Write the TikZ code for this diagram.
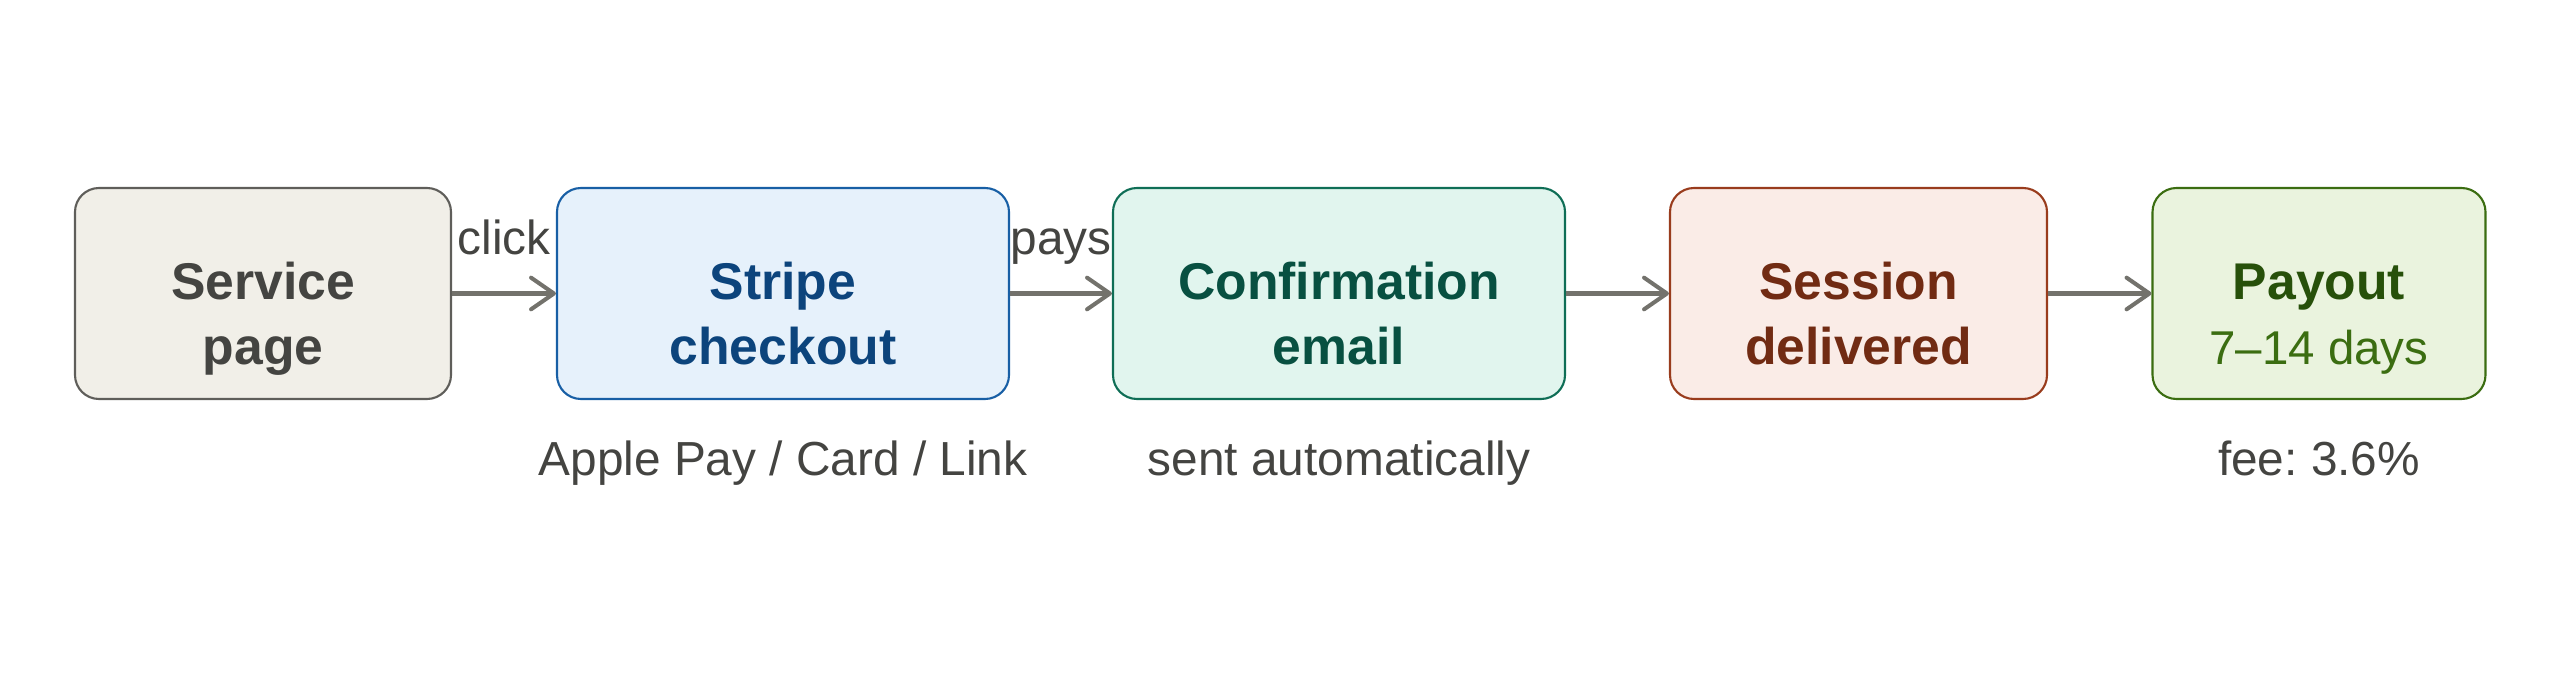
\documentclass[tikz,border=0pt]{standalone}
\usepackage{fontspec}
\setmainfont{Liberation Sans}
\usetikzlibrary{positioning,arrows.meta}
\frenchspacing

\definecolor{arrowgray}{HTML}{73726C}
\definecolor{notegray}{HTML}{444441}
\definecolor{pagefill}{HTML}{F1EFE8}\definecolor{pageline}{HTML}{5F5E5A}\definecolor{pagetext}{HTML}{444441}
\definecolor{chkfill}{HTML}{E6F1FB}\definecolor{chkline}{HTML}{185FA5}\definecolor{chktext}{HTML}{0C447C}
\definecolor{mailfill}{HTML}{E1F5EE}\definecolor{mailline}{HTML}{0F6E56}\definecolor{mailtext}{HTML}{085041}
\definecolor{sessfill}{HTML}{FAECE7}\definecolor{sessline}{HTML}{993C1D}\definecolor{sesstext}{HTML}{712B13}
\definecolor{payfill}{HTML}{EAF3DE}\definecolor{payline}{HTML}{3B6D11}\definecolor{paytext}{HTML}{27500A}

\begin{document}
\begin{tikzpicture}[
    box/.style={draw, rounded corners=0.24cm, line width=0.6pt, minimum height=2.11cm,
        inner sep=0pt, align=center, text height=44pt, text depth=3.8pt,
        font=\fontsize{14.7}{18.5}\selectfont\bfseries},
    flow/.style={draw=arrowgray, line width=1.15pt, -{Straight Barb[length=6.5pt,width=9pt,round]}},
    note/.style={font=\fontsize{13.6}{16}\selectfont, text=notegray, anchor=base}
]
    \useasboundingbox (0,0) rectangle (25.6,6.78);

    % the five steps
    \node[box, minimum width=3.76cm, fill=pagefill, draw=pageline, text=pagetext] (svc) at (2.63,3.845) {Service\\page};
    \node[box, minimum width=4.52cm, fill=chkfill, draw=chkline, text=chktext] (chk) at (7.83,3.845) {Stripe\\checkout};
    \node[box, minimum width=4.52cm, fill=mailfill, draw=mailline, text=mailtext] (mail) at (13.39,3.845) {Confirmation\\email};
    \node[box, minimum width=3.77cm, fill=sessfill, draw=sessline, text=sesstext] (sess) at (18.585,3.845) {Session\\delivered};
    \node[box, minimum width=3.33cm, fill=payfill, draw=payline, text=paytext] (pay) at (23.19,3.845)
        {Payout\\{\mdseries\fontsize{13.5}{16}\selectfont\color{payline}7--14 days}};

    % arrows between them
    \draw[flow] (svc) -- (chk);
    \draw[flow] (chk) -- (mail);
    \draw[flow] (mail) -- (sess);
    \draw[flow] (sess) -- (pay);

    % labels
    \node[note] (click) at (5.04,4.23) {click};
    \node[note] (pays) at (10.61,4.23) {pays};
    \node[note] (methods) at (7.83,2.02) {Apple Pay / Card / Link};
    \node[note] (auto) at (13.39,2.02) {sent automatically};
    \node[note] (fee) at (23.19,2.02) {fee: 3.6\%};
\end{tikzpicture}
\end{document}
